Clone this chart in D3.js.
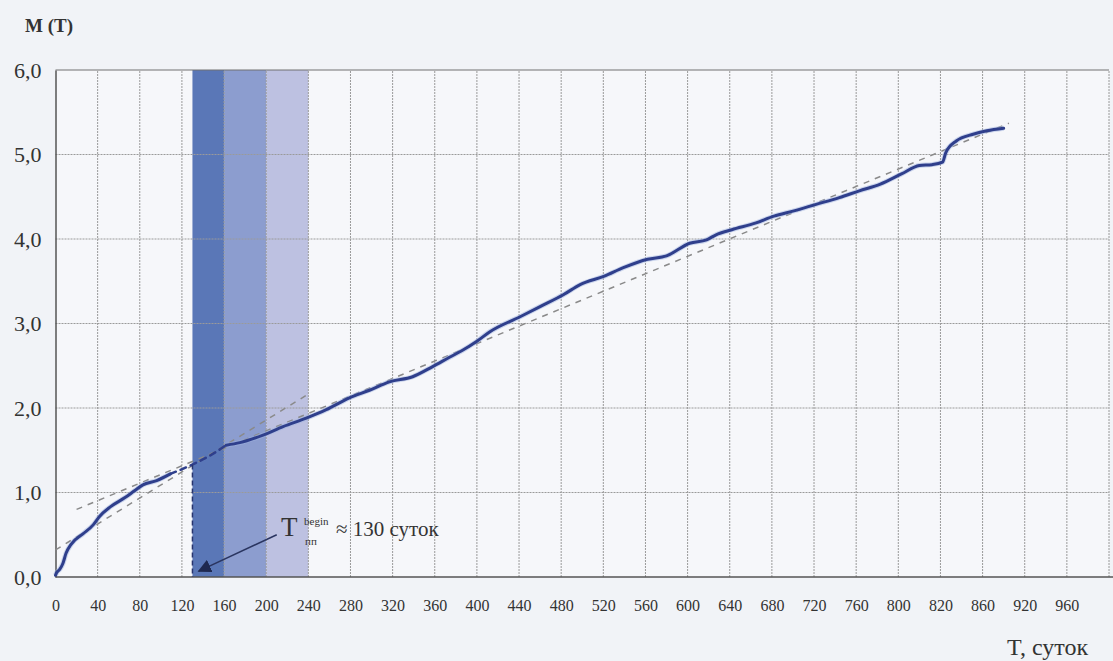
<!DOCTYPE html>
<html>
<head>
<meta charset="utf-8">
<script src="https://cdn.jsdelivr.net/npm/d3@7"></script>
<style>
  body { margin: 0; background: #f1f3f7; }
  svg text { font-family: "Liberation Serif", "Times New Roman", "DejaVu Serif", serif; }
</style>
</head>
<body>
<div id="chart"></div>
<script>
// x tick labels as printed (evenly spaced, 40 units per cell)
const xTickLabels = ["0", "40", "80", "120", "160", "200", "240", "280", "320", "360", "400", "440",
  "480", "520", "560", "600", "640", "680", "720", "760", "800", "820", "860", "920", "960"];
const yTicks = [0, 1, 2, 3, 4, 5, 6];

// M(T) curve
const curveT = [0, 1, 4, 7, 10, 15, 26, 36, 42, 52, 66, 75, 83, 96, 109, 128, 147, 162, 175, 197, 216,
  238, 257, 279, 298, 317, 339, 358, 374, 386, 400, 412, 441, 460, 482, 498, 521, 539, 562, 580, 602,
  618, 627, 642, 665, 682, 700, 722, 744, 763, 783, 803, 820, 832, 842, 845, 855, 871, 884, 900];
const curveM = [0.02, 0.05, 0.09, 0.16, 0.28, 0.39, 0.51, 0.62, 0.72, 0.83, 0.94, 1.02, 1.09, 1.14, 1.22,
  1.32, 1.44, 1.56, 1.59, 1.68, 1.78, 1.88, 1.98, 2.12, 2.21, 2.31, 2.37, 2.49, 2.60, 2.68, 2.79, 2.90,
  3.08, 3.20, 3.34, 3.46, 3.56, 3.66, 3.76, 3.80, 3.95, 3.99, 4.05, 4.11, 4.19, 4.27, 4.33, 4.41, 4.49,
  4.57, 4.65, 4.77, 4.87, 4.88, 4.91, 5.02, 5.16, 5.24, 5.28, 5.31];
const gapStart = 109, gapEnd = 162; // part of the curve drawn dashed

// trend lines [T0, M0, T1, M1]
const trendA = [0, 0.32, 238, 2.15];
const trendB = [20, 0.80, 905, 5.37];

// shaded bands [from, to]
const bands = [[130, 160], [160, 200], [200, 240]];
const bandColors = ["#5a77b7", "#8c9dcf", "#bdc1e1"];

const tBegin = 130;

const width = 1113, height = 661;
const margin = { left: 55.5, right: 4, top: 70, bottom: 84 };
const serif = "'Liberation Serif', 'Times New Roman', serif";

const svg = d3.select("#chart").append("svg")
  .attr("width", width).attr("height", height)
  .attr("font-family", serif);

const x = d3.scaleLinear().domain([0, 1000]).range([margin.left, width - margin.right]);
const y = d3.scaleLinear().domain([0, 6]).range([height - margin.bottom, margin.top]);

// plot background
svg.append("rect")
  .attr("x", x(0)).attr("y", y(6))
  .attr("width", x(1000) - x(0)).attr("height", y(0) - y(6))
  .attr("fill", "#f6f7fa");

// bands
svg.selectAll("rect.band")
  .data(bands)
  .join("rect")
  .attr("class", "band")
  .attr("x", d => x(d[0]))
  .attr("y", y(6))
  .attr("width", d => x(d[1]) - x(d[0]))
  .attr("height", y(0) - y(6))
  .attr("fill", (d, i) => bandColors[i]);

// grid
const xTickValues = xTickLabels.map((d, i) => i * 40);
svg.append("g")
  .selectAll("line")
  .data(xTickValues.slice(1).concat([1000]))
  .join("line")
  .attr("x1", d => x(d)).attr("x2", d => x(d))
  .attr("y1", y(0)).attr("y2", y(6))
  .attr("stroke", "#9a9a9a")
  .attr("stroke-dasharray", "2,1");

svg.append("g")
  .selectAll("line")
  .data(yTicks.slice(1))
  .join("line")
  .attr("x1", x(0)).attr("x2", x(1000))
  .attr("y1", d => y(d)).attr("y2", d => y(d))
  .attr("stroke", d => d === 6 ? "#707070" : "#9a9a9a")
  .attr("stroke-dasharray", d => d === 6 ? null : "2,1");

// axes
const xAxis = d3.axisBottom(x)
  .tickValues(xTickValues)
  .tickSize(0)
  .tickPadding(23)
  .tickFormat((d, i) => xTickLabels[i]);
const gx = svg.append("g")
  .attr("transform", `translate(0,${y(0)})`)
  .call(xAxis)
  .attr("font-family", serif);
gx.select(".domain").attr("stroke", "#555").attr("stroke-width", 1.5)
  .attr("d", `M${x(0)},0H${width}`);
gx.selectAll("text")
  .attr("font-family", serif)
  .attr("font-size", 16)
  .attr("fill", "#333");

const yAxis = d3.axisLeft(y)
  .tickValues(yTicks)
  .tickSize(0)
  .tickPadding(14)
  .tickFormat(d => d3.format(".1f")(d).replace(".", ","));
const gy = svg.append("g")
  .attr("transform", `translate(${x(0)},0)`)
  .call(yAxis)
  .attr("font-family", serif);
gy.select(".domain").attr("stroke", "#555").attr("stroke-width", 1.5);
gy.selectAll("text")
  .attr("font-family", serif)
  .attr("font-size", 22)
  .attr("fill", "#333");

// trend lines
[trendA, trendB].forEach(t => {
  svg.append("line")
    .attr("x1", x(t[0])).attr("y1", y(t[1]))
    .attr("x2", x(t[2])).attr("y2", y(t[3]))
    .attr("stroke", "#8a8a8a")
    .attr("stroke-width", 1.5)
    .attr("stroke-dasharray", "6,6");
});

// curve
const pts = curveT.map((t, i) => ({ t, m: curveM[i] }));
const line = d3.line().x(d => x(d.t)).y(d => y(d.m)).curve(d3.curveMonotoneX);
const parts = [
  { data: pts.filter(d => d.t <= gapStart), dash: null },
  { data: pts.filter(d => d.t >= gapStart && d.t <= gapEnd), dash: "6,5" },
  { data: pts.filter(d => d.t >= gapEnd), dash: null }
];
parts.forEach(p => {
  if (!p.dash) {
    svg.append("path")
      .attr("d", line(p.data))
      .attr("fill", "none")
      .attr("stroke", "#9fb4e0")
      .attr("stroke-width", 5)
      .attr("stroke-opacity", 0.5);
  }
  svg.append("path")
    .attr("d", line(p.data))
    .attr("fill", "none")
    .attr("stroke", "#2f3f8c")
    .attr("stroke-width", p.dash ? 2.5 : 3)
    .attr("stroke-dasharray", p.dash)
    .attr("stroke-linejoin", "round")
    .attr("stroke-linecap", "round");
});

// T begin marker
svg.append("line")
  .attr("x1", x(tBegin)).attr("x2", x(tBegin))
  .attr("y1", y(1.33)).attr("y2", y(0))
  .attr("stroke", "#27346e")
  .attr("stroke-width", 1.5)
  .attr("stroke-dasharray", "5,3");

svg.append("defs").append("marker")
  .attr("id", "arr")
  .attr("viewBox", "0 0 10 10")
  .attr("refX", 9).attr("refY", 5)
  .attr("markerWidth", 9).attr("markerHeight", 9)
  .attr("orient", "auto")
  .append("path")
  .attr("d", "M0,0L10,5L0,10Z")
  .attr("fill", "#1e2850");

svg.append("line")
  .attr("x1", x(210)).attr("y1", y(0.5))
  .attr("x2", x(136)).attr("y2", y(0.07))
  .attr("stroke", "#2a3560")
  .attr("stroke-width", 1.5)
  .attr("marker-end", "url(#arr)");

const ann = svg.append("g").attr("fill", "#333");
ann.append("text").attr("x", 281).attr("y", 536).attr("font-size", 27).text("T");
ann.append("text").attr("x", 304).attr("y", 525).attr("font-size", 11).text("begin");
ann.append("text").attr("x", 305).attr("y", 545).attr("font-size", 11).text("пп");
ann.append("text").attr("x", 336).attr("y", 536).attr("font-size", 21).text("≈ 130 суток");

// axis titles
svg.append("text")
  .attr("x", 25).attr("y", 32)
  .attr("font-size", 19)
  .attr("font-weight", "bold")
  .attr("fill", "#333")
  .text("M (T)");

svg.append("text")
  .attr("x", 1007).attr("y", 655)
  .attr("font-size", 24)
  .attr("fill", "#333")
  .text("T, суток");
</script>
</body>
</html>
